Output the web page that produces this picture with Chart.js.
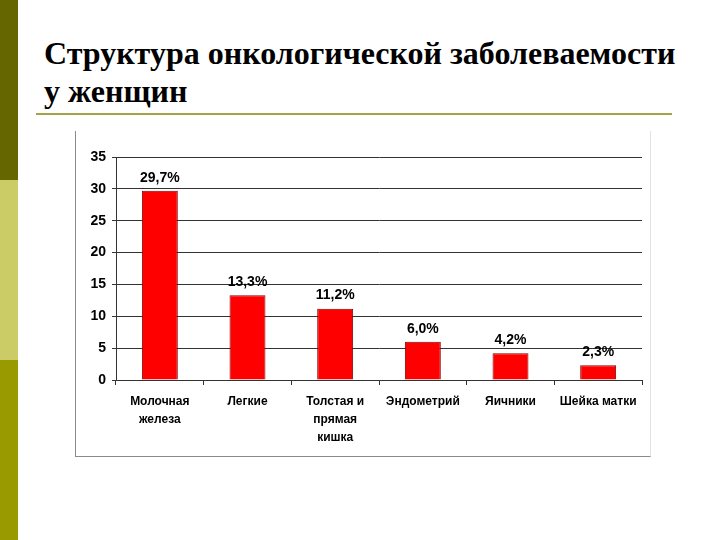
<!DOCTYPE html>
<html>
<head>
<meta charset="utf-8">
<script src="https://cdn.jsdelivr.net/npm/chart.js@4/dist/chart.umd.min.js"></script>
<style>
  html, body { margin: 0; padding: 0; background: #fff; }
  body { width: 720px; height: 540px; position: relative; overflow: hidden; }
  .stripe { position: absolute; left: 0; width: 18px; }
  #title {
    position: absolute; left: 44px; top: 34px;
    font: bold 32px "Liberation Serif", "Times New Roman", serif;
    line-height: 38px; color: #000; white-space: nowrap;
  }
  #rule { position: absolute; left: 36px; top: 113px; width: 636px; height: 2px; background: #a3a34a; }
  #frame {
    position: absolute; left: 75px; top: 131px; width: 574px; height: 325px;
    border-left: 1px solid #8a8a8a; border-bottom: 1px solid #8a8a8a; border-right: 1px solid #e2e2e2;
  }
</style>
</head>
<body>
<div class="stripe" style="top:0;height:180px;background:#666600"></div>
<div class="stripe" style="top:180px;height:180px;background:#cccc66"></div>
<div class="stripe" style="top:360px;height:180px;background:#999900"></div>
<div id="title">Структура онкологической заболеваемости<br>у женщин</div>
<div id="rule"></div>
<div id="frame"><canvas id="chart" width="574" height="325"></canvas></div>

<script>
// Данные
const categories = [
    ['Молочная', 'железа'],
    'Легкие',
    ['Толстая и', 'прямая', 'кишка'],
    'Эндометрий',
    'Яичники',
    'Шейка матки'
];
const values = [29.7, 13.3, 11.2, 6.0, 4.2, 2.3];
const valueLabels = ['29,7%', '13,3%', '11,2%', '6,0%', '4,2%', '2,3%'];
const yTicks = [0, 5, 10, 15, 20, 25, 30, 35];

const labelFont = 'bold 14px "Liberation Sans", Arial, sans-serif';

// Подписи над столбцами
const barLabels = {
    id: 'barLabels',
    afterDatasetsDraw(chart) {
        const ctx = chart.ctx;
        const meta = chart.getDatasetMeta(0);
        ctx.save();
        ctx.font = labelFont;
        ctx.fillStyle = '#000';
        ctx.textAlign = 'center';
        ctx.textBaseline = 'bottom';
        meta.data.forEach((bar, i) => {
            ctx.fillText(valueLabels[i], bar.x, bar.y - 6);
        });
        ctx.restore();
    }
};

new Chart(document.getElementById('chart'), {
    type: 'bar',
    data: {
        labels: categories,
        datasets: [{
            data: values,
            backgroundColor: '#ff0000',
            borderColor: '#800000',
            borderWidth: 1,
            barPercentage: 0.41,
            categoryPercentage: 1
        }]
    },
    options: {
        responsive: false,
        animation: false,
        layout: { padding: { top: 26, right: 8, left: 0, bottom: 0 } },
        plugins: { legend: { display: false }, tooltip: { enabled: false } },
        scales: {
            y: {
                min: 0, max: 35,
                afterBuildTicks: s => { s.ticks = yTicks.map(v => ({ value: v })); },
                afterFit: s => { s.width = 40; },
                grid: { color: '#333', lineWidth: 1, tickLength: 4 },
                border: { color: '#333' },
                ticks: { color: '#000', padding: 6, font: { family: '"Liberation Sans", Arial, sans-serif', size: 14, weight: 'bold' } }
            },
            x: {
                afterFit: s => { s.height = 76; },
                grid: { offset: true, drawOnChartArea: false, color: '#333', tickLength: 5 },
                border: { color: '#333' },
                ticks: {
                    color: '#000', padding: 8, maxRotation: 0, autoSkip: false,
                    font: { family: '"Liberation Sans", Arial, sans-serif', size: 12, weight: 'bold', lineHeight: 1.5 }
                }
            }
        }
    },
    plugins: [barLabels]
});
</script>
</body>
</html>
